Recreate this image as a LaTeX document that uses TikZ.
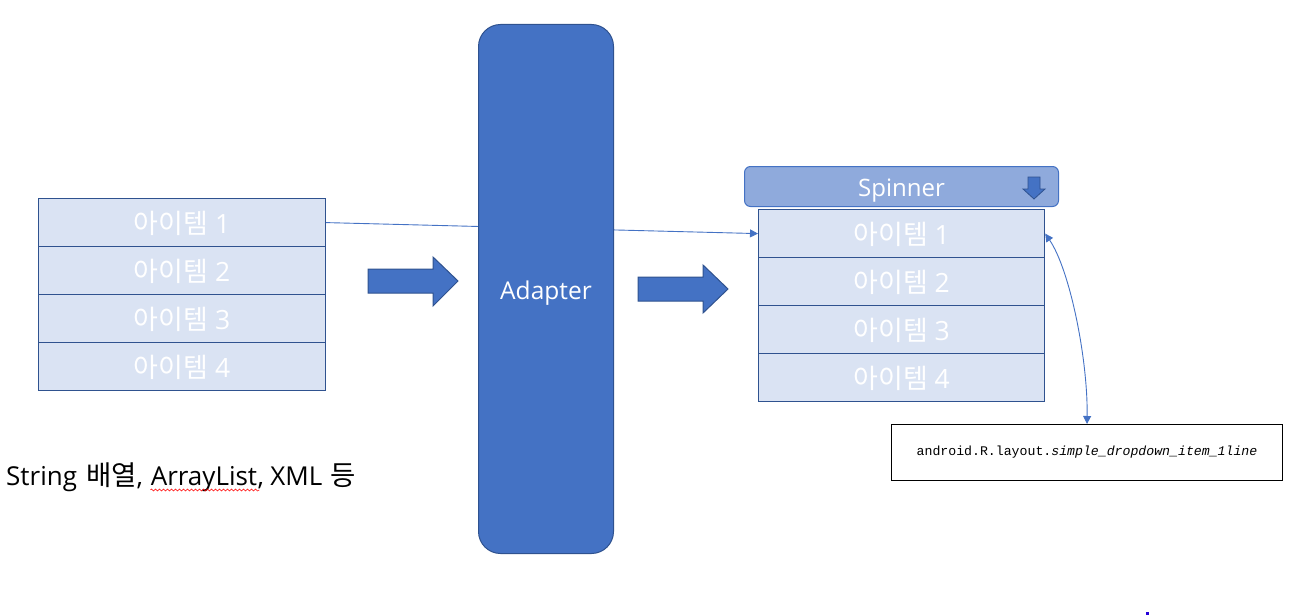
\documentclass[tikz,border=0pt]{standalone}
\usepackage{fontspec}
\setmainfont{Open Sans}
\newfontfamily\kr{Noto Sans CJK KR}
\newfontfamily\monofont{Liberation Mono}
\usetikzlibrary{arrows.meta, decorations.pathmorphing}
\definecolor{itemfill}{HTML}{DAE3F3}
\definecolor{darkblue}{HTML}{2F528F}
\definecolor{midblue}{HTML}{4472C4}
\definecolor{spinfill}{HTML}{8FAADC}
\newcommand{\itemtxt}[1]{{\kr\fontsize{27}{27}\selectfont 아이템}\ #1}
\newcommand{\krcap}[1]{{\kr\fontsize{27.5}{27.5}\selectfont #1}}
\tikzset{
  itembox/.style={draw=darkblue, line width=1.2pt, fill=itemfill, text=white,
    minimum height=48pt, inner sep=0pt, anchor=north west, text height=21.4pt, text depth=0pt,
    font=\fontsize{26.5}{26.5}\selectfont},
  thinline/.style={draw=midblue, line width=0.9pt},
  tip/.style={-{Triangle[length=8pt,width=8pt]}},
  blockarrow/.style={fill=midblue, draw=darkblue, line width=1pt},
  captxt/.style={inner sep=0pt, font=\fontsize{26}{26}\selectfont},
}
\begin{document}
\begin{tikzpicture}[x=1pt,y=-1pt]
\useasboundingbox (0,0) rectangle (1290,615);
% left list
\foreach \i in {1,...,4}{
  \node[itembox, minimum width=287pt] (L\i) at (38,{198+48*(\i-1)}) {\itemtxt{\i}};
}
% right list
\foreach \i in {1,...,4}{
  \node[itembox, minimum width=286pt] (R\i) at (758,{209+48*(\i-1)}) {\itemtxt{\i}};
}
% spinner
\node[draw=midblue, line width=1pt, fill=spinfill, rounded corners=6pt, anchor=north west,
  minimum width=314pt, minimum height=40pt, inner sep=0pt, text=white,
  text height=20pt, text depth=0pt,
  font=\fontsize{24}{24}\selectfont] (S) at (744,166) {Spinner};
\draw[blockarrow, line width=0.8pt] (1028,177) -- (1040,177) -- (1040,189) -- (1045,189) -- (1034,199) -- (1023,189) -- (1028,189) -- cycle;
% connector behind adapter
\draw[thinline, tip] (L1.east) -- (R1.west);
% adapter
\node[draw=darkblue, line width=1pt, fill=midblue, rounded corners=22pt, anchor=north west,
  minimum width=135pt, minimum height=529pt, inner sep=0pt, text=white,
  text height=21pt, text depth=0pt,
  font=\fontsize{24.5}{24.5}\selectfont] (A) at (478,24) {Adapter};
% block arrows
\draw[blockarrow] (368,269) -- (433,269) -- (433,257) -- (458,281) -- (433,306) -- (433,293) -- (368,293) -- cycle;
\draw[blockarrow] (638,277) -- (703,277) -- (703,265) -- (728,289) -- (703,313) -- (703,301) -- (638,301) -- cycle;
% layout box
\node[draw=black, line width=1pt, anchor=north west, minimum width=391pt, minimum height=56pt,
  inner sep=0pt, font=\monofont\fontsize{13.2}{13.2}\selectfont] (B) at (891,424)
  {android.R.layout.\textit{simple\_dropdown\_item\_1line}};
\draw[thinline, {Triangle[length=8pt,width=8pt]}-{Triangle[length=8pt,width=8pt]}]
  (R1.east) .. controls (1070,270) and (1088,360) .. (B.north);
% caption
\node[captxt, anchor=base west] (T1) at (6,485) {String\hspace{0.35em}\krcap{배열},};
\node[captxt, anchor=base west] (T2) at (T1.base east) {\hspace{0.28em}ArrayList};
\node[captxt, anchor=base west] (T3) at (T2.base east) {,\hspace{0.25em}XML\hspace{0.3em}\krcap{등}};
\coordinate (w1) at ([xshift=7pt,yshift=-5pt]T2.base west);
\coordinate (w2) at ([xshift=2pt,yshift=-5pt]T2.base east);
\draw[red, line width=0.5pt, decorate, decoration={snake, segment length=4pt, amplitude=1pt}] (w1) -- (w2);
\fill[blue!70!violet] (1146,612) rectangle (1149,615);
\end{tikzpicture}
\end{document}
